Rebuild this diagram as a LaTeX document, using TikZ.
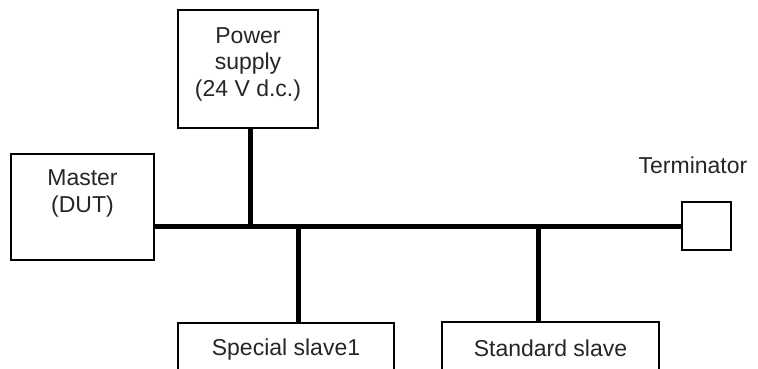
\documentclass[tikz,border=0pt]{standalone}
\usepackage{fontspec}
\setmainfont{Liberation Sans}
\begin{document}
\begin{tikzpicture}[x=1pt,y=-1pt,
  box/.style={draw=black,line width=1.3pt,inner sep=0pt,outer sep=0pt,fill=white},
  lbl/.style={inner sep=0pt,align=center,text=black!85,font=\fontsize{23}{26.5}\selectfont},
  bus/.style={line width=5pt,line cap=butt}]
\useasboundingbox (0,0) rectangle (758,369);
\clip (0,0) rectangle (758,369);
% boxes
\node[box,minimum width=140pt,minimum height=118pt] (ps) at (248,69) {};
\node[box,minimum width=143pt,minimum height=106pt] (master) at (82.5,207) {};
\node[box,minimum width=49pt,minimum height=48pt] (term) at (706.5,226) {};
\node[box,minimum width=216pt,minimum height=80pt,anchor=north] (s1) at (286,323) {};
\node[box,minimum width=217pt,minimum height=80pt,anchor=north] (s2) at (550.5,322) {};
% labels
\node[lbl] (pst) at (248,64) {Power\\supply\\(24 V d.c.)};
\node[lbl] (mt) at (82.5,193.5) {Master\\(DUT)};
\node[lbl] (tt) at (693,165) {Terminator};
\node[lbl] (s1t) at (286,350) {Special slave1};
\node[lbl] (s2t) at (550.5,348) {Standard slave};
% bus
\coordinate (jp) at (250,226);
\coordinate (j1) at (298,226);
\coordinate (j2) at (538,226);
\draw[bus] (master.east |- jp) -- (term.west |- jp);
\draw[bus] (ps.south -| jp) -- (jp);
\draw[bus] (j1) -- (j1 |- s1.north);
\draw[bus] (j2) -- (j2 |- s2.north);
\end{tikzpicture}
\end{document}
